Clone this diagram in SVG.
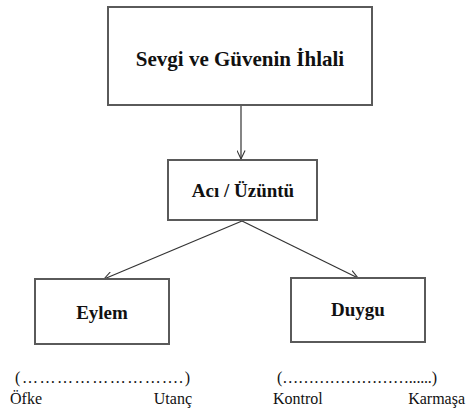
<svg xmlns="http://www.w3.org/2000/svg" width="469" height="410" viewBox="0 0 469 410">
<style>
.box{fill:#fff;stroke:#5a5a5a;stroke-width:2}
.lbl{font-family:"Liberation Serif","Times New Roman",serif;font-weight:bold;fill:#111;text-anchor:middle}
.txt{font-family:"Liberation Serif","Times New Roman",serif;font-size:16px;fill:#111}
.con{stroke:#333;stroke-width:1.2;fill:none}
</style>
<defs>
<marker id="arr" viewBox="0 0 10 10" refX="9.5" refY="5" markerWidth="9" markerHeight="9" markerUnits="userSpaceOnUse" orient="auto">
<path d="M0,0.5 L9.5,5 L0,9.5" fill="none" stroke="#333" stroke-width="1.2"/>
</marker>
</defs>
<rect width="469" height="410" fill="#fff"/>
<g id="connectors">
<line class="con" x1="241" y1="106" x2="241" y2="159" marker-end="url(#arr)"/>
<line class="con" x1="242" y1="221" x2="104" y2="279" marker-end="url(#arr)"/>
<line class="con" x1="242" y1="221" x2="358" y2="278" marker-end="url(#arr)"/>
</g>
<g id="node-ihlal">
<rect class="box" x="108" y="7" width="264" height="98"/>
<text class="lbl" x="240" y="66" font-size="21">Sevgi ve Güvenin İhlali</text>
</g>
<g id="node-aci">
<rect class="box" x="168" y="160" width="149" height="60"/>
<text class="lbl" x="243" y="197" font-size="19">Acı / Üzüntü</text>
</g>
<g id="node-eylem">
<rect class="box" x="35" y="279" width="134" height="65"/>
<text class="lbl" x="102" y="319" font-size="19">Eylem</text>
</g>
<g id="node-duygu">
<rect class="box" x="291" y="278" width="134" height="64"/>
<text class="lbl" x="358" y="316" font-size="19">Duygu</text>
</g>
<g id="scales">
<text class="txt" x="15" y="383" textLength="175" lengthAdjust="spacing">(……………………....)</text>
<text class="txt" x="10" y="404">Öfke</text>
<text class="txt" x="192" y="404" text-anchor="end">Utanç</text>
<text class="txt" x="277" y="383" textLength="160" lengthAdjust="spacing">(……………………......)</text>
<text class="txt" x="273" y="404">Kontrol</text>
<text class="txt" x="465" y="404" text-anchor="end">Karmaşa</text>
</g>
</svg>
